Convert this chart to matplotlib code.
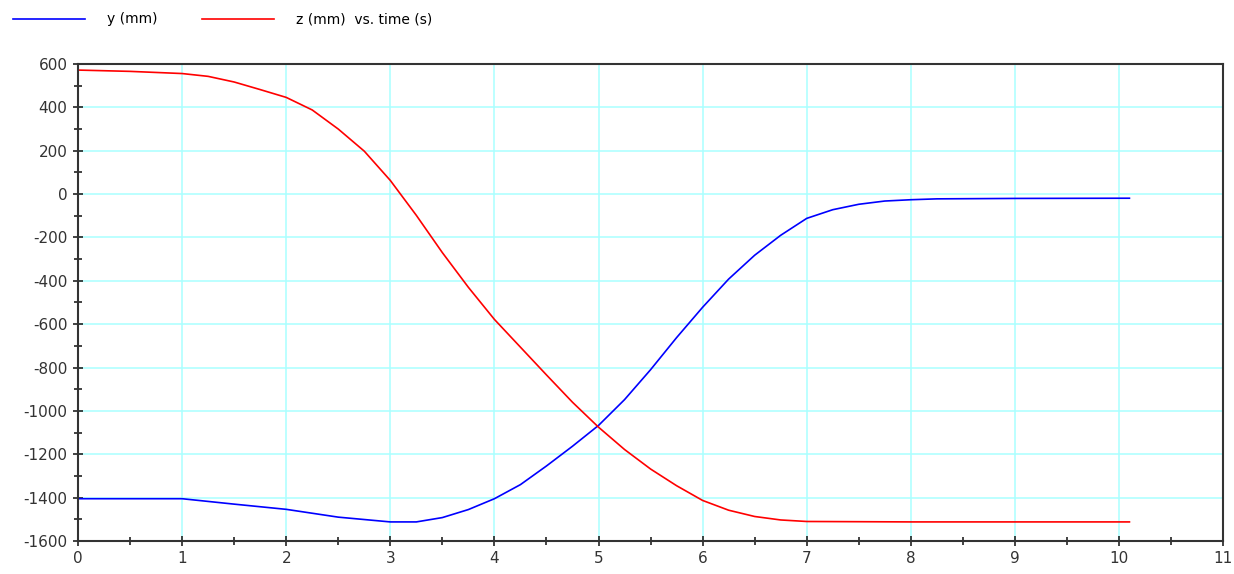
import matplotlib.pyplot as plt
from matplotlib.ticker import MultipleLocator

plt.rcParams['axes.unicode_minus'] = False

# time samples (s)
t_y = [0, 1, 1.5, 2, 2.5, 3, 3.25, 3.5, 3.75, 4, 4.25, 4.5, 4.75, 5, 5.25,
       5.5, 5.75, 6, 6.25, 6.5, 6.75, 7, 7.25, 7.5, 7.75, 8, 8.25, 9, 10.1]
y_mm = [-1405, -1405, -1430, -1454, -1490, -1512, -1512, -1492, -1455, -1405,
        -1340, -1254, -1163, -1067, -948, -810, -662, -522, -392, -282, -190,
        -112, -72, -47, -32, -26, -22, -20, -19]

t_z = [0, 0.5, 1, 1.25, 1.5, 1.75, 2, 2.25, 2.5, 2.75, 3, 3.25, 3.5, 3.75, 4,
       4.25, 4.5, 4.75, 5, 5.25, 5.5, 5.75, 6, 6.25, 6.5, 6.75, 7, 8, 9, 10.1]
z_mm = [572, 566, 556, 543, 517, 482, 446, 388, 300, 198, 63, -98, -270, -430,
        -578, -706, -834, -960, -1075, -1178, -1268, -1345, -1413, -1458,
        -1487, -1503, -1510, -1512, -1512, -1512]

x_ticks = list(range(0, 12))
y_ticks = list(range(-1600, 601, 200))

fig = plt.figure(figsize=(12.34, 5.74), dpi=100)
ax = fig.add_axes([0.0632, 0.0575, 0.928, 0.831])

ax.plot(t_y, y_mm, color='#0000ff', lw=1.2, label='y (mm)')
ax.plot(t_z, z_mm, color='#ff0000', lw=1.2, label='z (mm)  vs. time (s)')

ax.set_xlim(0, 11)
ax.set_ylim(-1600, 600)
ax.set_xticks(x_ticks)
ax.set_yticks(y_ticks)
ax.xaxis.set_minor_locator(MultipleLocator(0.5))
ax.yaxis.set_minor_locator(MultipleLocator(100))
ax.grid(True, which='major', color='#aaffff', lw=1.1)
ax.set_axisbelow(True)

ax.tick_params(which='both', direction='inout', color='#222222', width=1.2,
               labelsize=11, labelcolor='#333333')
ax.tick_params(which='major', length=7, pad=4)
ax.tick_params(which='minor', length=6)
for s in ax.spines.values():
    s.set_color('#333333')
    s.set_linewidth(1.5)

fig.legend(loc='upper left', bbox_to_anchor=(0.0, 1.0), ncol=2, frameon=False,
           fontsize=10, handlelength=5.2, handletextpad=1.6, columnspacing=3.2,
           borderaxespad=0.5)

fig.savefig('out.png', dpi=100)
